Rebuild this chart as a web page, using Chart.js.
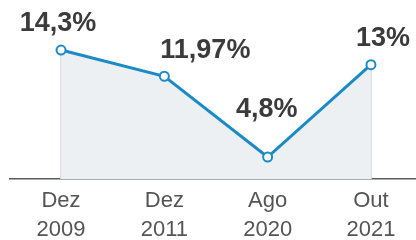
<!DOCTYPE html>
<html>
<head>
<meta charset="utf-8">
<script src="https://cdn.jsdelivr.net/npm/chart.js@4/dist/chart.umd.min.js"></script>
<style>
  html, body { margin: 0; padding: 0; background: #fff; overflow: hidden; }
  canvas { display: block; }
</style>
</head>
<body>
<canvas id="chart" width="416" height="251"></canvas>
<script>
const months = ["Dez", "Dez", "Ago", "Out"];
const years = ["2009", "2011", "2020", "2021"];
const rates = [14.3, 11.97, 4.8, 13];
const rateLabels = ["14,3%", "11,97%", "4,8%", "13%"];

// where each value label sits relative to its point
const labelShift = [[-3, -26], [41, -26], [-1, -47], [12, -26]];

const points = rates.map((v, i) => ({ x: i, y: v }));

const valueLabels = {
  id: "valueLabels",
  afterDatasetsDraw(chart) {
    const ctx = chart.ctx;
    const meta = chart.getDatasetMeta(1);
    ctx.save();
    ctx.font = "bold 27px 'Liberation Sans', Arial, sans-serif";
    ctx.fillStyle = "#3b3b3b";
    ctx.textAlign = "center";
    ctx.textBaseline = "middle";
    meta.data.forEach((pt, i) => {
      ctx.fillText(rateLabels[i], pt.x + labelShift[i][0], pt.y + labelShift[i][1]);
    });
    ctx.restore();
  },
};

new Chart(document.querySelector("#chart"), {
  data: {
    datasets: [
      {
        type: "bar",
        data: points,
        backgroundColor: "#d3d8de",
        barThickness: 1,
        order: 2,
      },
      {
        type: "line",
        data: points,
        borderColor: "#1b8bc7",
        borderWidth: 3,
        backgroundColor: "#edf0f3",
        fill: "start",
        tension: 0,
        pointRadius: 4.5,
        pointBorderWidth: 2,
        pointBackgroundColor: "#ffffff",
        pointBorderColor: "#1b8bc7",
        clip: false,
        order: 1,
      },
    ],
  },
  options: {
    responsive: false,
    animation: false,
    layout: { autoPadding: false, padding: { left: 10, right: 0, top: 0, bottom: 0 } },
    plugins: {
      legend: { display: false },
      tooltip: { enabled: false },
    },
    scales: {
      x: {
        type: "linear",
        offset: false,
        min: -0.494,
        max: 3.436,
        afterBuildTicks: (axis) => {
          axis.ticks = months.map((m, i) => ({ value: i }));
        },
        grid: { display: false, drawTicks: false, offset: false },
        border: { display: true, color: "#5a5a5a", width: 1.5 },
        ticks: {
          padding: 7,
          color: "#555555",
          font: { family: "'Liberation Sans', Arial, sans-serif", size: 22, lineHeight: "29px" },
          maxRotation: 0,
          autoSkip: false,
          callback: (value) => [months[value], years[value]],
        },
      },
      y: {
        display: false,
        min: 2.85,
        max: 18.74,
      },
    },
  },
  plugins: [valueLabels],
});
</script>
</body>
</html>
